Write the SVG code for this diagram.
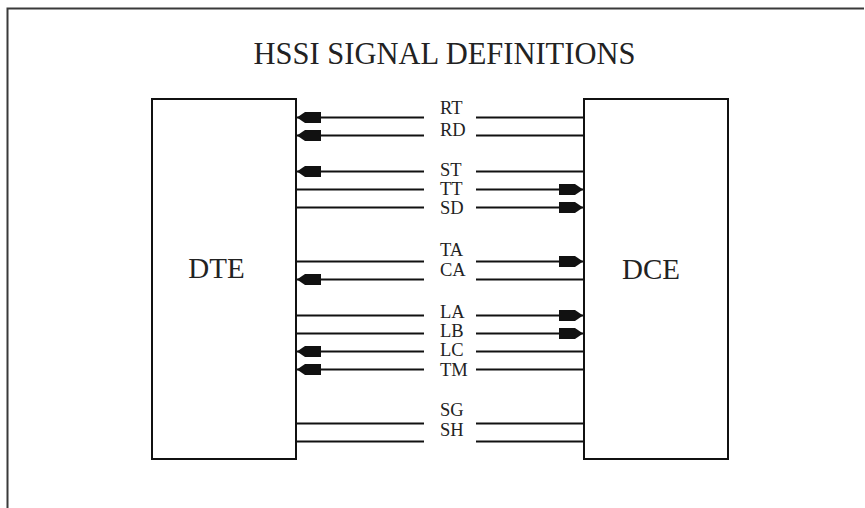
<svg xmlns="http://www.w3.org/2000/svg" width="865" height="508" viewBox="0 0 865 508">
<style>
.frame{fill:none;stroke:#3a3a3a;stroke-width:2}
.box{fill:#fff;stroke:#111;stroke-width:2}
.w{stroke:#111;stroke-width:2;fill:none}
.l{marker-end:url(#ah)}
.t{font-family:"Liberation Serif","Times New Roman",serif;fill:#222}
.lbl{font-size:18.5px}
.big{font-size:29px}
</style>
<defs>
<marker id="ah" markerUnits="userSpaceOnUse" markerWidth="26" markerHeight="14" viewBox="0 -7 26 14" refX="24" refY="0" orient="auto">
<path d="M0,-5.5 L16,-5.5 L24,0 L16,5.5 L0,5.5 Z" fill="#111"/>
</marker>
</defs>
<path class="frame" d="M7.5,508 V8.5 H864"/>
<text class="t" x="444.5" y="64" font-size="30.5" text-anchor="middle">HSSI SIGNAL DEFINITIONS</text>
<g id="dte">
<rect class="box" x="152" y="99" width="144" height="360"/>
<text class="t big" x="216.5" y="277.5" text-anchor="middle">DTE</text>
</g>
<g id="dce">
<rect class="box" x="584" y="99" width="144" height="360"/>
<text class="t big" x="651" y="279" text-anchor="middle">DCE</text>
</g>
<g id="connectors">
<line class="w l" x1="424" y1="117.5" x2="297" y2="117.5"/><line class="w" x1="476" y1="117.5" x2="584" y2="117.5"/>
<line class="w l" x1="424" y1="135.5" x2="297" y2="135.5"/><line class="w" x1="476" y1="135.5" x2="584" y2="135.5"/>
<line class="w l" x1="424" y1="171.5" x2="297" y2="171.5"/><line class="w" x1="476" y1="171.5" x2="584" y2="171.5"/>
<line class="w" x1="296" y1="189.5" x2="424" y2="189.5"/><line class="w l" x1="476" y1="189.5" x2="583" y2="189.5"/>
<line class="w" x1="296" y1="207.5" x2="424" y2="207.5"/><line class="w l" x1="476" y1="207.5" x2="583" y2="207.5"/>
<line class="w" x1="296" y1="261.5" x2="424" y2="261.5"/><line class="w l" x1="476" y1="261.5" x2="583" y2="261.5"/>
<line class="w l" x1="424" y1="279.5" x2="297" y2="279.5"/><line class="w" x1="476" y1="279.5" x2="584" y2="279.5"/>
<line class="w" x1="296" y1="315.5" x2="424" y2="315.5"/><line class="w l" x1="476" y1="315.5" x2="583" y2="315.5"/>
<line class="w" x1="296" y1="333.5" x2="424" y2="333.5"/><line class="w l" x1="476" y1="333.5" x2="583" y2="333.5"/>
<line class="w l" x1="424" y1="351.5" x2="297" y2="351.5"/><line class="w" x1="476" y1="351.5" x2="584" y2="351.5"/>
<line class="w l" x1="424" y1="369.5" x2="297" y2="369.5"/><line class="w" x1="476" y1="369.5" x2="584" y2="369.5"/>
<line class="w" x1="296" y1="423.5" x2="424" y2="423.5"/><line class="w" x1="476" y1="423.5" x2="584" y2="423.5"/>
<line class="w" x1="296" y1="441.5" x2="424" y2="441.5"/><line class="w" x1="476" y1="441.5" x2="584" y2="441.5"/>
</g>
<g id="labels" class="t lbl">
<text x="440" y="113.5">RT</text>
<text x="440" y="135.8">RD</text>
<text x="440" y="175.5">ST</text>
<text x="440" y="194.6">TT</text>
<text x="440" y="213.8">SD</text>
<text x="440" y="255.5">TA</text>
<text x="440" y="276.3">CA</text>
<text x="440" y="317.6">LA</text>
<text x="440" y="336.6">LB</text>
<text x="440" y="355.5">LC</text>
<text x="440" y="375.5">TM</text>
<text x="440" y="416.3">SG</text>
<text x="440" y="436.3">SH</text>
</g>
</svg>
